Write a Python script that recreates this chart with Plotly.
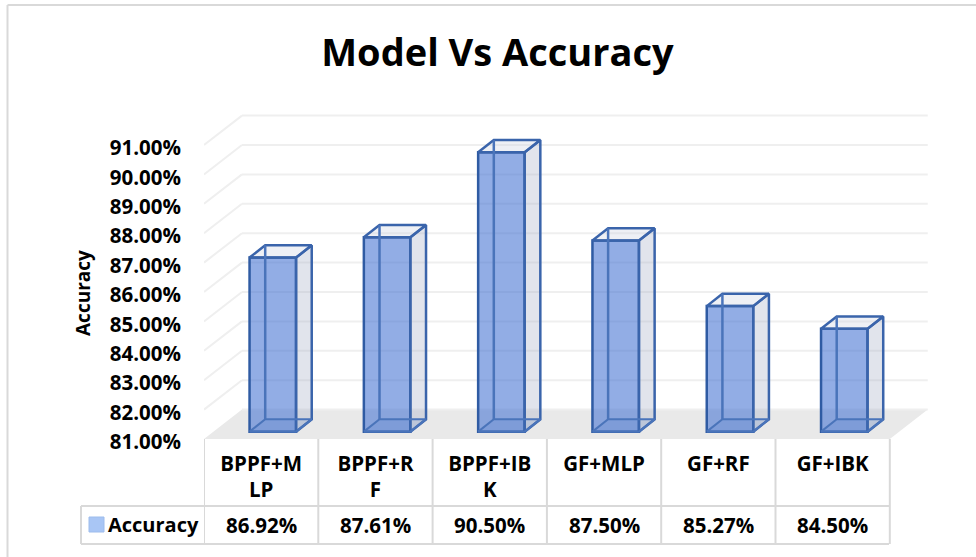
import plotly.graph_objects as go

categories = ["BPPF+MLP", "BPPF+RF", "BPPF+IBK", "GF+MLP", "GF+RF", "GF+IBK"]
axis_labels = ["BPPF+M<br>LP", "BPPF+R<br>F", "BPPF+IB<br>K", "GF+MLP", "GF+RF", "GF+IBK"]
accuracy = [86.92, 87.61, 90.50, 87.50, 85.27, 84.50]
y_ticks = [81, 82, 83, 84, 85, 86, 87, 88, 89, 90, 91]

FONT = "Open Sans"
W, H = 976, 557

# where the front plane of the plot sits on the page
LEFT, RIGHT, TOP, BASE = 204, 930, 110, 439
CAT_PX, PCT_PX = 114.3, 29.4

# the fake 3d, in data units
FLOOR_DX, FLOOR_DY = 0.332, 1.0
BAR_W = 0.407
BAR_SHIFT, BAR_LIFT = 0.102, 0.25
BAR_DX, BAR_DY = 0.137, 0.42


def px(x):
  return (x - LEFT) / (RIGHT - LEFT)


def py(y):
  return (BASE - y) / (BASE - TOP)


def line(x0, y0, x1, y1, color="#d9d9d9", width=2):
  return dict(type="line", xref="paper", yref="paper", x0=px(x0), y0=py(y0), x1=px(x1), y1=py(y1),
              line=dict(color=color, width=width))


x_left, x_right = -0.5, len(categories) - 0.5
y0 = y_ticks[0]
shapes = []

# floor
shapes.append(dict(
    type="path", layer="below", xref="x", yref="y", line_width=0, fillcolor="#e9e9e9",
    path=f"M {x_left} {y0} L {x_left + FLOOR_DX} {y0 + FLOOR_DY} "
         f"L {x_right + FLOOR_DX} {y0 + FLOOR_DY} L {x_right} {y0} Z",
))
# gridlines, side wall then back wall
for t in y_ticks[:-1]:
  t1 = t + FLOOR_DY
  shapes.append(dict(type="line", layer="below", xref="x", yref="y", x0=x_left, y0=t1,
                     x1=x_left + FLOOR_DX, y1=t1 + FLOOR_DY, line=dict(color="#efefef", width=2)))
for t in y_ticks:
  t1 = t + FLOOR_DY
  shapes.append(dict(type="line", layer="below", xref="x", yref="y", x0=x_left + FLOOR_DX, y0=t1,
                     x1=x_right + FLOOR_DX, y1=t1, line=dict(color="#efefef", width=2)))

# data table rules
for i in range(len(categories) + 1):
  shapes.append(dict(type="line", xref="x", yref="paper", x0=x_left + i, x1=x_left + i,
                     y0=py(BASE), y1=py(544), line=dict(color="#d9d9d9", width=2)))
shapes.append(line(81, 506, 889, 506))
shapes.append(line(81, 544, 889, 544))
shapes.append(line(81, 506, 81, 544))

# chart frame
shapes.append(line(7.5, 5, 976, 5))
shapes.append(line(7.5, 5, 7.5, 557))

# legend key
shapes.append(dict(type="rect", xref="paper", yref="paper", x0=px(89), x1=px(104), y0=py(517), y1=py(532),
                   fillcolor="#a9c6f5", line=dict(color="#9dbcec", width=1)))

fig = go.Figure()

# front faces
fig.add_trace(go.Bar(
    x=[i + BAR_SHIFT for i in range(len(categories))],
    y=[v - y0 for v in accuracy],
    base=y0 + BAR_LIFT,
    width=BAR_W,
    name="Accuracy",
    marker=dict(color="rgba(68,114,210,0.58)", line=dict(color="#2f5ba3", width=2.5)),
    hovertext=categories,
))

# the other faces of each box
for i, v in enumerate(accuracy):
  a = i + BAR_SHIFT - BAR_W / 2
  b = i + BAR_SHIFT + BAR_W / 2
  bottom = y0 + BAR_LIFT
  top = v + BAR_LIFT
  # side
  fig.add_trace(go.Scatter(
      x=[b, b + BAR_DX, b + BAR_DX, b, b],
      y=[bottom, bottom + BAR_DY, top + BAR_DY, top, bottom],
      mode="lines", fill="toself", fillcolor="rgba(170,178,200,0.35)",
      line=dict(color="#3a64ab", width=2.5), showlegend=False, hoverinfo="skip",
  ))
  # top
  fig.add_trace(go.Scatter(
      x=[a, a + BAR_DX, b + BAR_DX, b, a],
      y=[top, top + BAR_DY, top + BAR_DY, top, top],
      mode="lines", fill="toself", fillcolor="rgba(200,205,222,0.3)",
      line=dict(color="#3a64ab", width=2.5), showlegend=False, hoverinfo="skip",
  ))
  # floor of the box and the hidden edges
  fig.add_trace(go.Scatter(
      x=[a, a + BAR_DX, b + BAR_DX, b, a],
      y=[bottom, bottom + BAR_DY, bottom + BAR_DY, bottom, bottom],
      mode="lines", fill="toself", fillcolor="rgba(68,114,196,0.15)",
      line=dict(color="#4a74ba", width=2), showlegend=False, hoverinfo="skip",
  ))
  fig.add_trace(go.Scatter(
      x=[a + BAR_DX, a + BAR_DX], y=[bottom + BAR_DY, top + BAR_DY],
      mode="lines", line=dict(color="#4a74ba", width=2.5), showlegend=False, hoverinfo="skip",
  ))

annotations = []
for i, v in enumerate(accuracy):
  annotations.append(dict(
      x=i, xref="x", y=py(525), yref="paper", text=f"{v:.2f}%", showarrow=False,
      xanchor="center", yanchor="middle", font=dict(family=FONT, size=20.5, color="black"),
  ))
annotations.append(dict(
    x=px(108), xref="paper", y=py(524), yref="paper", text="Accuracy", showarrow=False,
    xanchor="left", yanchor="middle", xshift=-2, font=dict(family=FONT, size=20, color="black"),
))
annotations.append(dict(
    x=px(84), xref="paper", y=py(293), yref="paper", text="Accuracy", showarrow=False, textangle=-90,
    xanchor="center", yanchor="middle", xshift=-1, font=dict(family=FONT, size=19, color="black"),
))

fig.update_layout(
    width=W, height=H, autosize=False,
    margin=dict(l=LEFT, r=W - RIGHT, t=TOP, b=H - BASE, pad=0),
    paper_bgcolor="white", plot_bgcolor="rgba(0,0,0,0)",
    showlegend=False,
    title=dict(text="<b>Model Vs Accuracy</b>", x=497.5 / W, xanchor="center", y=1 - 53 / H, yanchor="middle",
               font=dict(family=FONT, size=38, color="black")),
    shapes=shapes, annotations=annotations,
    font=dict(family=FONT, color="black"),
)
fig.update_xaxes(
    range=[x_left, x_left + (RIGHT - LEFT) / CAT_PX],
    tickvals=list(range(len(categories))), ticktext=[f"<b>{s}</b>" for s in axis_labels],
    tickangle=0, ticks="outside", ticklen=6, tickcolor="rgba(0,0,0,0)",
    tickfont=dict(family=FONT, size=20.5, color="black"),
    showgrid=False, zeroline=False, showline=False,
)
fig.update_yaxes(
    range=[y0, y0 + (BASE - TOP) / PCT_PX],
    tickvals=y_ticks, ticktext=[f"<b>{t:.2f}%</b>" for t in y_ticks],
    ticks="outside", ticklen=18, tickcolor="rgba(0,0,0,0)", ticklabelshift=3,
    tickfont=dict(family=FONT, size=20.5, color="black"),
    showgrid=False, zeroline=False, showline=False,
)

for a in fig.layout.annotations:
  a.text = f"<b>{a.text}</b>"

# the page's default body margin would push the whole chart 8px down and right
fig.write_html("out.html", config=dict(displayModeBar=False), post_script="document.body.style.margin = '0';")
